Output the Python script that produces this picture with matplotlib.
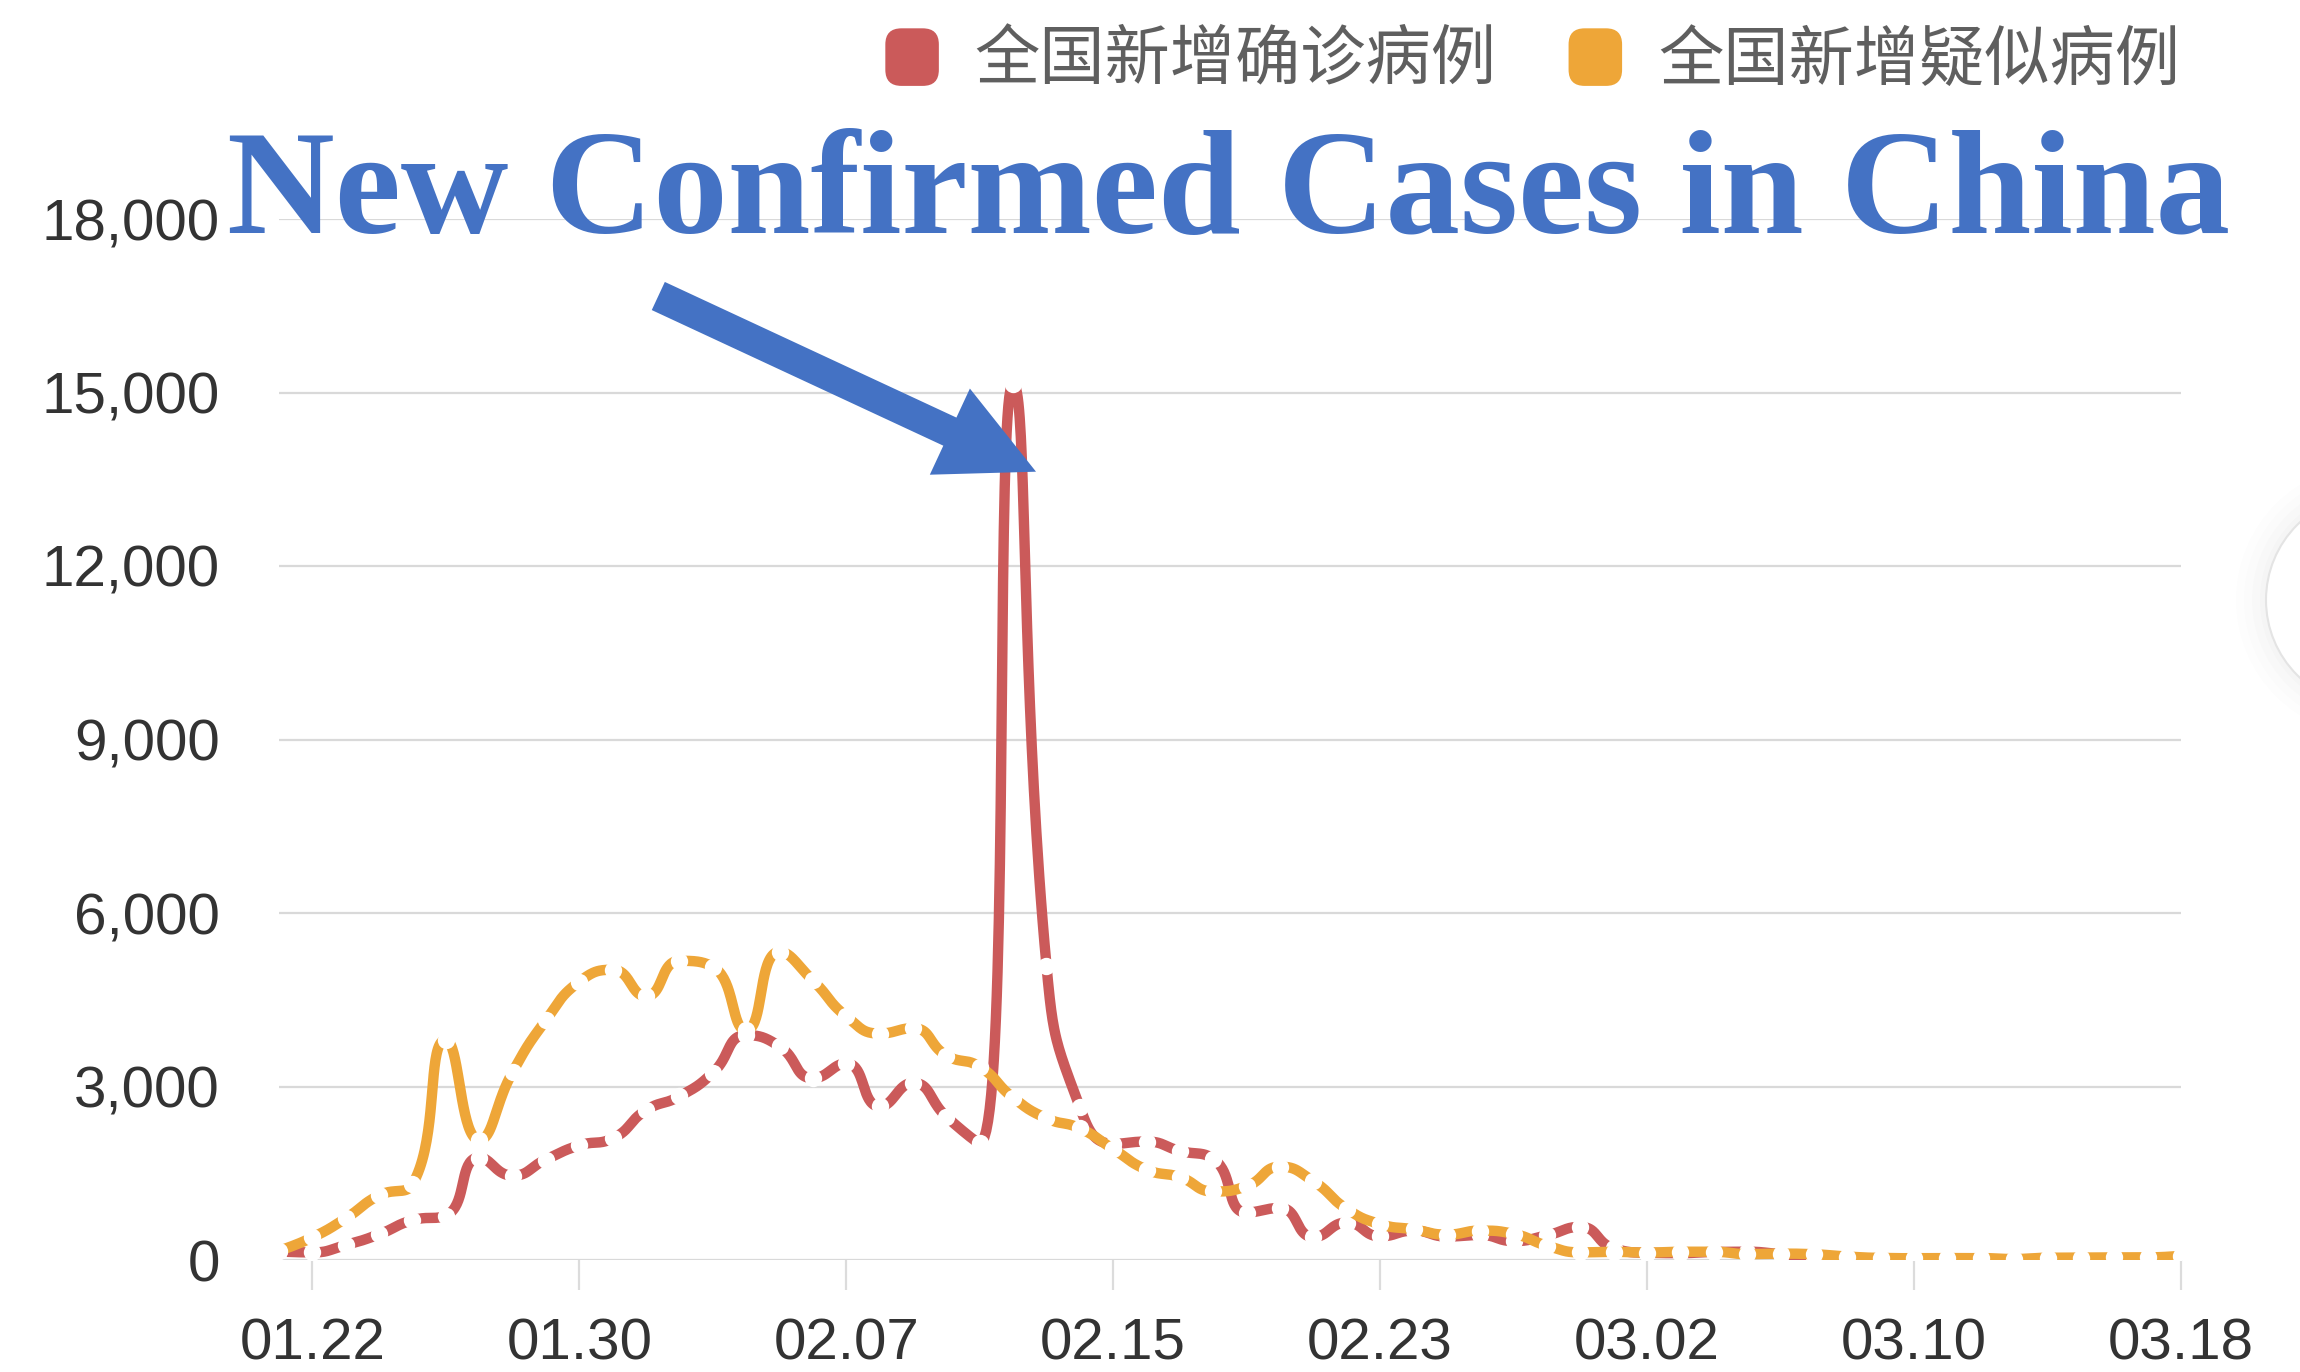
import numpy as np
import pandas as pd
import matplotlib
matplotlib.use('Agg')
import matplotlib.pyplot as plt
from matplotlib.patches import FancyArrow, FancyBboxPatch, Patch, Circle
from matplotlib.legend_handler import HandlerPatch

# ---------------- data ----------------
dates = [d.strftime('%m.%d') for d in pd.date_range('2020-01-21', '2020-03-18')]

confirmed = [149, 131, 259, 444, 688, 769, 1771, 1459, 1737, 1982, 2102,
             2590, 2829, 3235, 3887, 3694, 3143, 3399, 2656, 3062, 2478,
             2015, 15152, 5090, 2641, 2009, 2048, 1886, 1749, 820, 900,
             397, 648, 409, 508, 406, 433, 327, 427, 573,
             202, 125, 119, 139, 143, 99, 44, 40, 19, 24, 15, 8, 11, 20,
             16, 21, 13, 34]

suspected = [160, 390, 720, 1118, 1309, 3806, 2077, 3248, 4148, 4812, 5019,
             4562, 5173, 5072, 3971, 5328, 4833, 4214, 3916, 4008, 3536,
             3342, 2807, 2450, 2277, 1918, 1563, 1432, 1185, 1277, 1614,
             1361, 882, 620, 530, 439, 508, 452, 248, 132,
             141, 129, 143, 143, 102, 110, 99, 60, 36, 31, 33, 33, 17, 39,
             41, 45, 45, 73]

series_names = ['全国新增确诊病例', '全国新增疑似病例']
tick_labels = ['01.22', '01.30', '02.07', '02.15', '02.23', '03.02', '03.10', '03.18']
y_ticks = [0, 3000, 6000, 9000, 12000, 15000, 18000]
title_text = 'New Confirmed Cases in China'

RED = '#cb5a5a'
ORANGE = '#eea638'
BLUE = '#4472C4'

plt.rcParams['font.family'] = ['Liberation Sans', 'DejaVu Sans']

FW, FH = 2300, 1372
fig = plt.figure(figsize=(FW / 100, FH / 100), dpi=100)
L, R, B, T = 279, 2181, 1260, 219
ax = fig.add_axes([L / FW, 1 - B / FH, (R - L) / FW, (B - T) / FH])

x = np.arange(len(dates))
YMAX = 18000
sx = (R - L) / (len(dates) - 1)
sy = (B - T) / YMAX


def smooth_curve(xs, ys, smooth=0.5, nseg=40):
    """echarts-like clamped bezier smoothing computed in pixel space"""
    px = np.asarray(xs, float) * sx
    py = np.asarray(ys, float) * sy
    n = len(px)
    cn = np.column_stack([px, py]).copy()
    cpv = cn.copy()
    for k in range(1, n - 1):
        X, Y = px[k], py[k]
        pX, pY = px[k - 1], py[k - 1]
        nX, nY = px[k + 1], py[k + 1]
        vx, vy = nX - pX, nY - pY
        l0 = np.hypot(X - pX, Y - pY)
        l1 = np.hypot(nX - X, nY - Y)
        r = l1 / (l0 + l1)
        ncx = X + vx * smooth * r
        ncy = Y + vy * smooth * r
        ncx = min(max(ncx, min(nX, X)), max(nX, X))
        ncy = min(max(ncy, min(nY, Y)), max(nY, Y))
        vx, vy = ncx - X, ncy - Y
        pcx = X - vx * l0 / l1
        pcy = Y - vy * l0 / l1
        pcx = min(max(pcx, min(pX, X)), max(pX, X))
        pcy = min(max(pcy, min(pY, Y)), max(pY, Y))
        vx, vy = X - pcx, Y - pcy
        ncx = X + vx * l1 / l0
        ncy = Y + vy * l1 / l0
        cn[k] = (ncx, ncy)
        cpv[k] = (pcx, pcy)
    t = np.linspace(0, 1, nseg)
    ox, oy = [], []
    for k in range(n - 1):
        p0 = np.array([px[k], py[k]])
        p1 = cn[k]
        p2 = cpv[k + 1]
        p3 = np.array([px[k + 1], py[k + 1]])
        b = ((1 - t) ** 3)[:, None] * p0 + (3 * (1 - t) ** 2 * t)[:, None] * p1 \
            + (3 * (1 - t) * t ** 2)[:, None] * p2 + (t ** 3)[:, None] * p3
        ox.append(b[:, 0])
        oy.append(b[:, 1])
    return np.concatenate(ox) / sx, np.concatenate(oy) / sy


lw = 7.5
for vals, col, z in [(confirmed, RED, 2), (suspected, ORANGE, 4)]:
    cx, cy = smooth_curve(x, vals)
    ax.plot(cx, cy, color=col, lw=lw, solid_joinstyle='round',
            solid_capstyle='butt', zorder=z)
    ax.plot(x, vals, ls='none', marker='o', ms=12.5, mfc='white', mec='none',
            zorder=z + 1)

ax.set_xlim(0, len(dates) - 1)
ax.set_ylim(0, YMAX)
ax.set_yticks(y_ticks)
ax.set_yticklabels([f'{v:,}' for v in y_ticks])
ax.set_xticks([dates.index(t) for t in tick_labels])
ax.set_xticklabels(tick_labels)
ax.yaxis.grid(True, color='#d9d9d9', lw=1.6)
ax.set_axisbelow(True)
for s in ax.spines.values():
    s.set_visible(False)
ax.tick_params(axis='y', length=0, pad=42.5, labelsize=42, labelcolor='#333333')
ax.tick_params(axis='x', length=21.6, width=1.6, color='#dcdcdc', pad=20,
               labelsize=42, labelcolor='#333333')


class RoundHandler(HandlerPatch):
    def create_artists(self, legend, orig_handle, xdescent, ydescent,
                       width, height, fontsize, trans):
        p = FancyBboxPatch((-xdescent, -ydescent), width, height,
                           boxstyle=f'round,pad=0,rounding_size={min(width, height) * 0.3}',
                           fc=orig_handle.get_facecolor(), ec='none',
                           transform=trans)
        return [p]


handles = [Patch(facecolor=RED), Patch(facecolor=ORANGE)]
ax.legend(handles, series_names, ncol=2, loc='upper right',
          bbox_to_anchor=(2180 / FW, 1 - 28 / FH), bbox_transform=fig.transFigure,
          frameon=False, prop={'family': ['Noto Sans CJK SC', 'DejaVu Sans'], 'size': 47},
          labelcolor='#5f5f5f', handlelength=0.82, handleheight=0.98,
          handletextpad=0.55, columnspacing=1.1, borderpad=0, borderaxespad=0,
          handler_map={Patch: RoundHandler()})

fig.text(227 / FW, 1 - 233 / FH, title_text, fontsize=107.3, fontweight='bold',
         family=['Liberation Serif', 'DejaVu Serif'], color=BLUE,
         ha='left', va='baseline', zorder=10)

tail = (658.3, FH - 296.0)
tip = (1036.0, FH - 471.7)
arr = FancyArrow(tail[0] / 100, tail[1] / 100, (tip[0] - tail[0]) / 100,
                 (tip[1] - tail[1]) / 100, width=0.31, head_width=0.95,
                 head_length=0.95, length_includes_head=True,
                 transform=fig.dpi_scale_trans, color=BLUE, lw=0, zorder=11)
fig.add_artist(arr)

# faint circular UI element at the right edge
for i, a in enumerate([0.015, 0.015, 0.02, 0.025]):
    fig.add_artist(Circle((23.72, (FH - 600) / 100), 1.06 + 0.3 - i * 0.08,
                          transform=fig.dpi_scale_trans, fc='#808080', ec='none',
                          alpha=a, zorder=0))
fig.add_artist(Circle((23.72, (FH - 600) / 100), 1.06, transform=fig.dpi_scale_trans,
                      fc='white', ec='#e4e4e4', lw=1.5, zorder=1))

fig.savefig('out.png', dpi=100)
